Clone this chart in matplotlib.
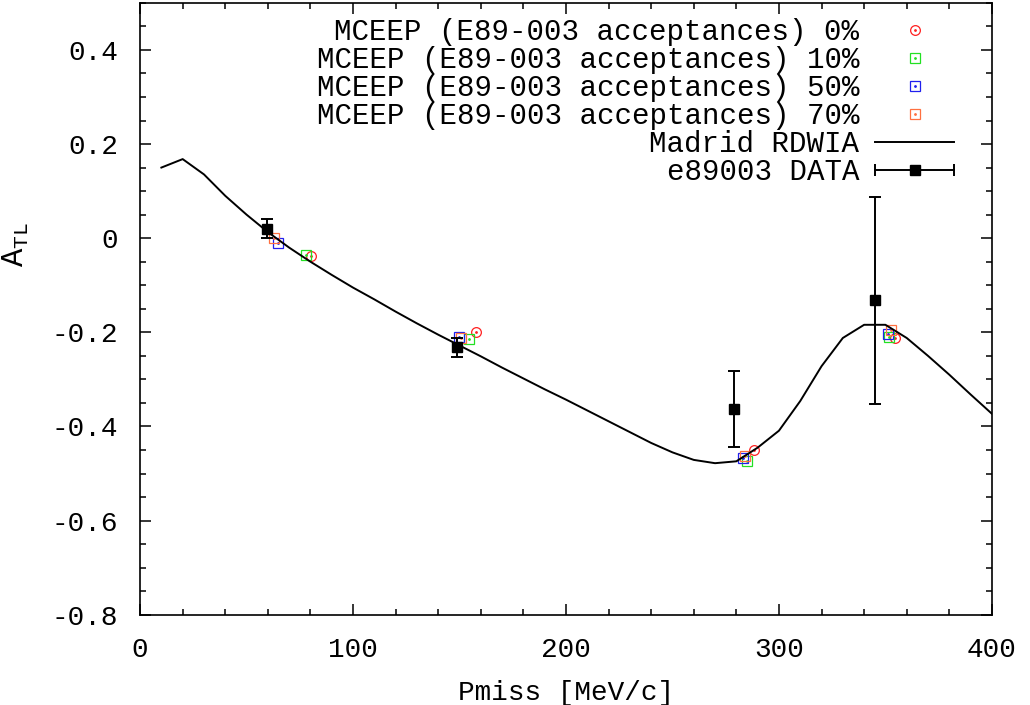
import matplotlib
matplotlib.use("Agg")
import matplotlib.pyplot as plt
from matplotlib.legend_handler import HandlerBase, HandlerTuple
from matplotlib.lines import Line2D
from matplotlib.ticker import MultipleLocator, FuncFormatter

plt.rcParams['font.family'] = ['Liberation Mono', 'DejaVu Sans Mono']
plt.rcParams['mathtext.fontset'] = 'custom'
plt.rcParams['mathtext.rm'] = 'Liberation Mono'
plt.rcParams['mathtext.it'] = 'Liberation Mono'
plt.rcParams['axes.unicode_minus'] = False

# Madrid RDWIA curve
pmiss_theory = [10, 20, 30, 40, 50, 60, 70, 80, 90, 100,
                110, 120, 130, 140, 150, 160, 170, 180, 190, 200,
                210, 220, 230, 240, 250, 260, 270, 280, 290, 300,
                310, 320, 330, 340, 350, 360, 370, 380, 390, 400]
atl_theory = [0.150, 0.168, 0.1355, 0.090, 0.050, 0.013, -0.020, -0.050, -0.078, -0.105,
              -0.130, -0.156, -0.181, -0.205, -0.228, -0.251, -0.275, -0.298, -0.321, -0.343,
              -0.366, -0.389, -0.412, -0.435, -0.455, -0.471, -0.478, -0.474, -0.445, -0.409,
              -0.346, -0.272, -0.212, -0.184, -0.184, -0.212, -0.250, -0.290, -0.332, -0.373]

# e89003 data
pmiss_data = [59.5, 148.7, 278.9, 345.0]
atl_data = [0.020, -0.232, -0.363, -0.132]
atl_err = [0.020, 0.020, 0.080, 0.220]

# MCEEP simulations
mceep_labels = ["MCEEP (E89-003 acceptances) 0%",
                "MCEEP (E89-003 acceptances) 10%",
                "MCEEP (E89-003 acceptances) 50%",
                "MCEEP (E89-003 acceptances) 70%"]
mceep_x = [[80.3, 157.7, 288.3, 354.5],
           [77.9, 154.6, 284.8, 351.8],
           [64.9, 149.9, 283.2, 351.0],
           [63.0, 150.8, 284.0, 352.4]]
mceep_y = [[-0.038, -0.200, -0.451, -0.213],
           [-0.036, -0.215, -0.474, -0.210],
           [-0.010, -0.210, -0.467, -0.203],
           [0.000, -0.212, -0.462, -0.196]]
mceep_colors = ['#ff2020', '#22e022', '#2020ee', '#ff7040']
mceep_markers = ['o', 's', 's', 's']

FS = 21.0


class HandlerHBar(HandlerBase):
    # gnuplot style key: horizontal bar with caps and a square in the middle
    def create_artists(self, legend, orig_handle, xdescent, ydescent,
                       width, height, fontsize, trans):
        y = height / 2 - ydescent
        x0, x1 = -xdescent, width - xdescent
        bar = Line2D([x0, x1], [y, y], color='k', lw=1.4)
        caps = Line2D([x0, x1], [y, y], ls='none', marker='|', ms=8, mew=1.4, color='k')
        sq = Line2D([(x0 + x1) / 2], [y], ls='none', marker='s', ms=7, color='k')
        for a in (bar, caps, sq):
            a.set_transform(trans)
        return [bar, caps, sq]


fig = plt.figure(figsize=(10.3, 7.05), dpi=100)
ax = fig.add_axes([0.136, 0.128, 0.827, 0.868])

handles = []
labels = []
for xs, ys, c, m, lab in zip(mceep_x, mceep_y, mceep_colors, mceep_markers, mceep_labels):
    h1, = ax.plot(xs, ys, ls='none', marker=m, ms=7, mfc='none', mec=c, mew=0.9)
    h2, = ax.plot(xs, ys, ls='none', marker='.', ms=2, color=c)
    handles.append((h1, h2))
    labels.append(lab)

h_line, = ax.plot(pmiss_theory, atl_theory, color='k', lw=1.4)
handles.append(h_line)
labels.append("Madrid RDWIA")

h_data = ax.errorbar(pmiss_data, atl_data, yerr=atl_err, fmt='s', ms=7, color='k',
                     ecolor='k', elinewidth=1.4, capsize=4.5, capthick=1.4)
handles.append(h_data)
labels.append("e89003 DATA")

ax.set_xlim(0, 400)
ax.set_ylim(-0.8, 0.5)
ax.xaxis.set_major_locator(MultipleLocator(100))
ax.xaxis.set_minor_locator(MultipleLocator(20))
ax.yaxis.set_major_locator(MultipleLocator(0.2))
ax.yaxis.set_minor_locator(MultipleLocator(0.05))
ax.yaxis.set_major_formatter(FuncFormatter(lambda v, p: "%g" % round(v, 3)))
ax.tick_params(which='both', direction='in', top=True, right=True, width=1.1, labelsize=20)
ax.tick_params(which='major', length=8)
ax.tick_params(which='minor', length=4.5)
ax.tick_params(axis='x', pad=16)
ax.tick_params(axis='y', pad=16)
for s in ax.spines.values():
    s.set_linewidth(1.2)

ax.set_xlabel("Pmiss [MeV/c]", fontsize=20, labelpad=12)
ax.set_ylabel(r"A$_{\mathrm{TL}}$", fontsize=22)
ax.yaxis.set_label_coords(-0.128, 0.605)

ax.legend(handles, labels, loc='upper right', bbox_to_anchor=(0.959, 0.980),
          frameon=False, markerfirst=False, fontsize=FS, borderpad=0.1,
          borderaxespad=0, handlelength=2.7, handletextpad=0.55, labelspacing=0.0,
          handler_map={tuple: HandlerTuple(ndivide=1), type(h_data): HandlerHBar()})

fig.savefig("out.png", dpi=100)
